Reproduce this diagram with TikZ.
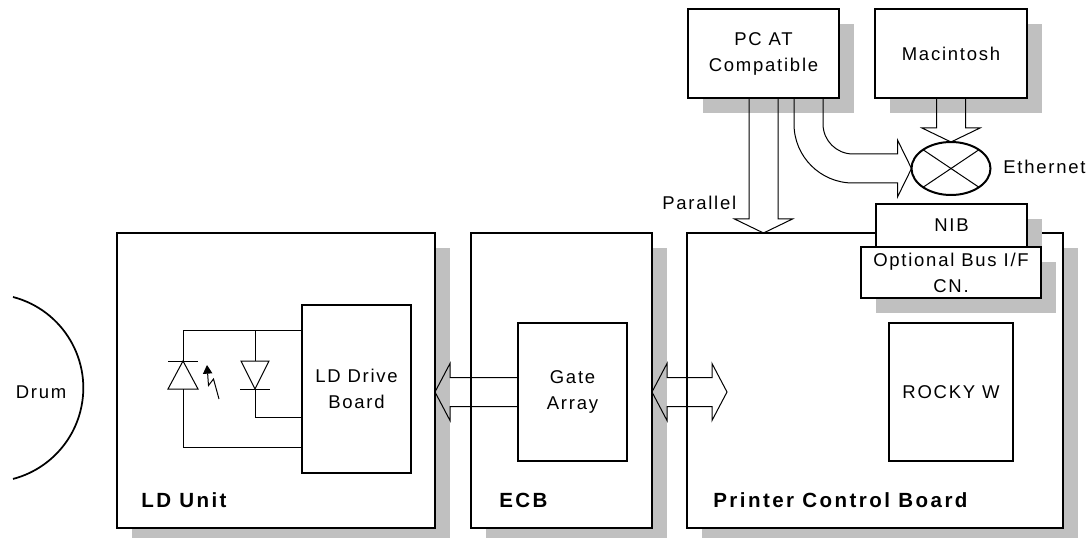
\documentclass[tikz,border=0pt]{standalone}
\usepackage{fontspec}
\setmainfont{Liberation Sans}
\newfontfamily\regfont[LetterSpace=9.5]{Liberation Sans}
\newfontfamily\labfont[LetterSpace=12]{Liberation Sans}
\usetikzlibrary{shadows,arrows.meta,calc,shapes.geometric}
\definecolor{shade}{RGB}{192,192,192}
\begin{document}
\begin{tikzpicture}[x=0.75pt,y=-0.75pt,
  txt/.style={font=\regfont\fontsize{13.875}{19.5}\selectfont, inner sep=0pt},
  sz/.style 2 args={minimum width=#1*0.75pt, minimum height=#2*0.75pt},
  plainbox/.style={draw, rectangle, fill=white, inner sep=0pt, outer sep=0pt, align=center, txt},
  shadowed/.style={drop shadow={shadow xshift=11.25pt, shadow yshift=-11.25pt, fill=shade, opacity=1}},
  mainbox/.style={plainbox, shadowed, line width=1.5pt},
  cardbox/.style={plainbox, shadowed, line width=1.1pt},
  subbox/.style={plainbox, line width=1.1pt},
  blk/.style={draw, line width=0.75pt, line join=miter},
  wire/.style={draw, line width=0.75pt},
  lab/.style={font=\labfont\bfseries\fontsize{15.4}{18}\selectfont, anchor=base west, inner sep=0pt}]
\useasboundingbox (0,0) rectangle (1089,538);

% main boards
\node[mainbox, sz={318}{295}] (ldu) at (276,380.5) {};
\node[mainbox, sz={181}{295}] (ecb) at (561.5,380.5) {};
\node[mainbox, sz={376}{295}] (pcb) at (875,380.5) {};

% inner boards
\node[subbox, sz={109}{168}] (ldd) at (356.5,389) {LD Drive\\Board};
\node[subbox, sz={109}{138}] (ga) at (572.5,392) {Gate\\Array};
\node[subbox, sz={124}{138}] (rocky) at (951,392) {ROCKY W};

% hosts
\node[mainbox, sz={151}{89}] (pc) at (763.5,53.5) {PC AT\\Compatible};
\node[mainbox, sz={152}{89}] (mac) at (951,53.5) {Macintosh};

% NIB and optional bus
\node[cardbox, sz={151}{43}] (nib) at (951.5,225.5) {NIB};
\node[cardbox, sz={180}{51}] (obus) at (951,272.5) {Optional Bus I/F\\CN.};

% ethernet
\node[draw, ellipse, fill=white, line width=1.5pt, inner sep=0pt, outer sep=0pt, sz={79}{53}] (eth) at (951,168.5) {};
\draw[wire] (eth.north west) -- (eth.south east);
\draw[wire] (eth.north east) -- (eth.south west);

% drum
\node[txt] (drum) at (41,392) {Drum};
\draw[line width=1.3pt] (13,297) arc[start angle=-75.4, end angle=75.4, radius=94];

% block arrows
\coordinate (lt) at (ldu.east |- ga.west);
\draw[blk] ($(ga.west)+(0,-14.5)$) -- ($(lt)+(15,-14.5)$) -- ++(0,-14) -- (lt)
  -- ++(15,28.5) -- ++(0,-14) -- ($(ga.west)+(0,14.5)$);

\coordinate (dl) at (ecb.east |- ga.west);
\coordinate (dr) at ($(pcb.west |- ga.west)+(40,0)$);
\draw[blk] (dl) -- ++(15,-28.5) -- ++(0,14) -- ($(dr)+(-15,-14.5)$) -- ++(0,-14) -- (dr)
  -- ++(-15,28.5) -- ++(0,-14) -- ($(dl)+(15,14.5)$) -- ++(0,14) -- cycle;

\coordinate (pt) at (pc.south |- pcb.north);
\draw[blk] ($(pc.south)+(-14.5,0)$) -- ($(pt)+(-14.5,-14)$) -- ++(-14.5,0) -- (pt)
  -- ++(29,-14) -- ++(-14.5,0) -- ($(pc.south)+(14.5,0)$);

\coordinate (mt) at (mac.south |- eth.north);
\draw[blk] ($(mac.south)+(-14.5,0)$) -- ($(mt)+(-14.5,-14)$) -- ++(-14.5,0) -- (mt)
  -- ++(29,-14) -- ++(-14.5,0) -- ($(mac.south)+(14.5,0)$);

\draw[blk] ($(pc.south)+(30.5,0)$) -- ++(0,26) arc[start angle=180, end angle=90, radius=59]
  -- ($(eth.west)+(-14,14.5)$) -- ++(0,14) -- (eth.west) -- ++(-14,-28.5) -- ++(0,14)
  -- ++(-44.5,0) arc[start angle=90, end angle=180, radius=30] -- ($(pc.south)+(59.5,0)$);

% laser diode circuit
\coordinate (la) at (183,331);
\coordinate (lb) at (255,331);
\coordinate (lc) at (183,447);
\coordinate (ld) at (255,417);
\draw[wire] (ldd.west |- la) -- (la) -- (183,361);
\draw[wire] (lb) -- (255,361);
\draw[wire] (168,361) -- (198,361);
\draw[wire] (183,361) -- (168,389) -- (198,389) -- cycle;
\draw[wire] (183,389) -- (lc) -- (ldd.west |- lc);
\draw[wire] (241,361) -- (269,361) -- (255,389) -- cycle;
\draw[wire] (240,389) -- (270,389);
\draw[wire] (255,389) -- (ld) -- (ldd.west |- ld);
\draw[wire, -{Triangle[length=6.5pt, width=7pt]}] (219,399) -- (213.5,379) -- (208.5,385.5) -- (207,365);

% labels
\node[lab] at ($(ldu.south west)+(24,-21)$) {LD Unit};
\node[lab] at ($(ecb.south west)+(28,-21)$) {ECB};
\node[lab] at ($(pcb.south west)+(26,-21)$) {Printer Control Board};
\node[txt, anchor=base west] at (662,210) {Parallel};
\node[txt, anchor=base west] at ($(eth.east)+(12.5,5.5)$) {Ethernet};
\end{tikzpicture}
\end{document}
